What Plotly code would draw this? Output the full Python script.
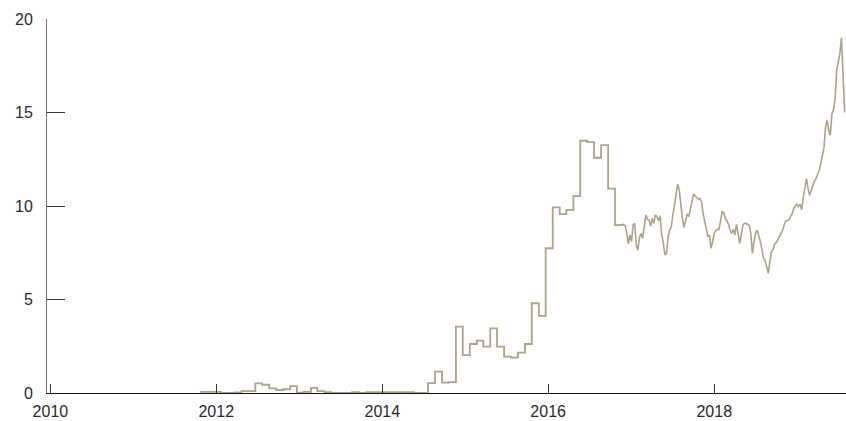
import plotly.graph_objects as go
import pandas as pd

#monthly values, Oct 2011 - Oct 2016 (step line)
monthly_start = '2011-10-01'
monthly_vals = [0.06, 0.06, 0.06, 0, 0, 0.03, 0.1, 0.1, 0.52, 0.44,
                0.25, 0.16, 0.2, 0.37, 0.02, 0.06, 0.27, 0.1, 0.05, 0,
                0, 0, 0.05, 0, 0.04, 0.04, 0.04, 0.04, 0.04, 0.04,
                0.04, 0, 0, 0.53, 1.14, 0.55, 0.58, 3.55, 2.03, 2.62,
                2.8, 2.48, 3.46, 2.48, 1.94, 1.89, 2.16, 2.62, 4.8, 4.12,
                7.74, 9.93, 9.57, 9.79, 10.53, 13.49, 13.42, 12.58, 13.26, 10.93,
                8.98]

#weekly values from late Nov 2016 onwards
weekly_start = '2016-11-21'
weekly_vals = [9.04, 9.0, 8.95, 8.55, 7.97, 8.45, 8.1, 9.0, 9.07, 7.9,
               7.63, 8.35, 8.53, 8.27, 9.07, 9.52, 9.28, 9.25, 8.93, 9.34,
               9.07, 9.52, 9.43, 9.2, 9.48, 8.45, 8.0, 7.38, 7.47, 8.36,
               8.7, 8.9, 9.52, 10.05, 10.77, 11.17, 10.86, 9.97, 9.34, 8.86,
               9.25, 9.57, 9.43, 9.93, 10.23, 10.64, 10.53, 10.46, 10.36, 10.41,
               10.23, 9.61, 9.25, 8.81, 8.36, 8.45, 7.74, 8.1, 8.55, 8.68,
               8.75, 8.75, 9.16, 9.7, 9.64, 9.34, 9.2, 9.02, 8.7, 8.53,
               8.75, 8.45, 9.02, 8.45, 8.0, 8.45, 8.98, 9.07, 9.07, 9.02,
               8.96, 8.53, 7.47, 8.1, 8.57, 8.7, 8.45, 8.1, 7.68, 7.2,
               7.08, 6.76, 6.4, 7.02, 7.56, 7.68, 7.97, 8.04, 8.22, 8.36,
               8.5, 8.7, 8.98, 9.21, 9.21, 9.27, 9.45, 9.59, 9.86, 10.04,
               10.09, 9.98, 10.09, 9.8, 10.48, 11.01, 11.46, 10.93, 10.57, 10.84,
               11.16, 11.34, 11.46, 11.64, 11.91, 12.27, 12.8, 13.12, 14.19, 14.58,
               14.05, 13.78, 14.94, 15.15, 15.74, 17.25, 17.7, 18.15, 19.0, 17.2,
               15.0]

y_ticks = [0, 5, 10, 15, 20]

line_color = '#ada38a'

monthly_dates = pd.date_range(monthly_start, periods=len(monthly_vals), freq='MS') + pd.Timedelta(days=20)
weekly_dates = pd.date_range(weekly_start, periods=len(weekly_vals), freq='7D')

#step part runs up to where the weekly part begins
step_x = list(monthly_dates) + [weekly_dates[0]]
step_y = monthly_vals + [weekly_vals[0]]

trace_steps = go.Scatter(
    x=step_x, y=step_y,
    mode='lines',
    line=dict(color=line_color, width=1.8, shape='hv'),
    hoverinfo='none')

trace_weekly = go.Scatter(
    x=weekly_dates, y=weekly_vals,
    mode='lines',
    line=dict(color=line_color, width=1.6),
    hoverinfo='none')

fig = go.Figure(data=[trace_steps, trace_weekly])

fig.update_layout(
    width=846, height=421,
    margin=dict(l=47, r=0, t=19, b=28, autoexpand=False),
    paper_bgcolor='white',
    plot_bgcolor='white',
    showlegend=False,
    font=dict(family='Liberation Sans, Arial, sans-serif', size=16, color='#2a2a2a'))

fig.update_xaxes(
    range=['2009-12-17', '2019-08-04'],
    tick0='2010-01-01', dtick='M24', tickformat='%Y',
    ticks='inside', ticklen=9, tickwidth=1, tickcolor='#333',
    ticklabelstandoff=4,
    showline=True, linecolor='#111', linewidth=1,
    showgrid=False, zeroline=False, automargin=False)

fig.update_yaxes(
    range=[0, 20], tickvals=y_ticks,
    ticks='inside', ticklen=18, tickwidth=1, tickcolor='#333',
    ticklabelstandoff=10,
    showline=True, linecolor='#777', linewidth=1,
    showgrid=False, zeroline=False, automargin=False)

#page body has a default margin, drop it so the figure sits at 0,0
fig.write_html('out.html', config={'displayModeBar': False},
               post_script="document.body.style.margin='0px';")
